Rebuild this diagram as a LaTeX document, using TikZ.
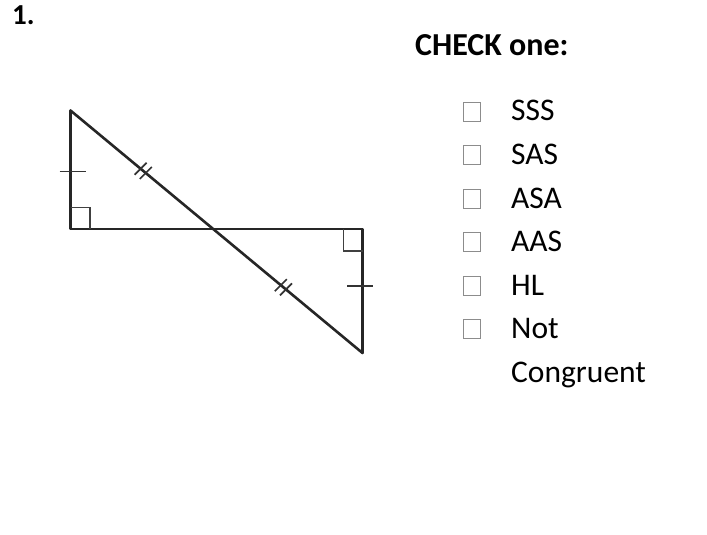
\documentclass[tikz,border=0pt]{standalone}
\usepackage{fontspec}
\setmainfont{Carlito}
\usetikzlibrary{calc}
\tikzset{
  side/.style={line width=2.6pt, line cap=round, line join=round, black!85},
  tick/.style={line width=1.7pt, black!80},
  rightang/.style={line width=1.3pt, black!75},
  cbox/.style={line width=0.9pt, draw=black!45},
  item/.style={anchor=base west, inner sep=0pt, font=\fontsize{31.5}{38}\selectfont},
  head/.style={anchor=base west, inner sep=0pt, font=\fontsize{32}{38}\selectfont\bfseries}
}
\begin{document}
\begin{tikzpicture}[x=1pt,y=-1pt]
\useasboundingbox (0,0) rectangle (707,535);
% labels
\node[head, font=\fontsize{29}{34}\selectfont\bfseries] (num) at (12,25) {1.};
\node[head] (hdr) at (415,55.7) {CHECK one:};
% triangle vertices
\coordinate (A) at (70.5,110.5);
\coordinate (B) at (70.5,229);
\coordinate (D) at (362.5,229);
\coordinate (E) at (362.5,353);
\draw[side] (A) -- (B) -- (D) -- (E);
\draw[side] (A) -- (E);
% right angle marks
\draw[rightang] ($(B)+(0,-21.5)$) -- ($(B)+(19.5,-21.5)$) -- ($(B)+(19.5,0)$);
\draw[rightang] ($(D)+(-19,0)$) -- ($(D)+(-19,22)$) -- ($(D)+(0,22)$);
% single ticks
\coordinate (T1) at ($(A)!0.516!(B)$);
\coordinate (T2) at ($(D)!0.46!(E)$);
\draw[tick] ($(T1)+(-11,0)$) -- ($(T1)+(15.5,0)$);
\draw[tick] ($(T2)+(-15.5,0)$) -- ($(T2)+(10.5,0)$);
% double ticks on hypotenuse
\coordinate (H1) at ($(A)!0.249!(E)$);
\coordinate (H2) at ($(A)!0.729!(E)$);
\foreach \h in {H1,H2}{
  \draw[tick] ($(\h)+(-2.6,-2.1)+(-6,6)$) -- ($(\h)+(-2.6,-2.1)+(6,-6)$);
  \draw[tick] ($(\h)+(2.6,2.1)+(-6,6)$) -- ($(\h)+(2.6,2.1)+(6,-6)$);
}
% check list
\foreach \t [count=\i from 0] in {SSS,SAS,ASA,AAS,HL,Not}{
  \pgfmathsetmacro{\yb}{121+43.5*\i}
  \draw[cbox] (463.5,\yb-19) rectangle (480,\yb);
  \node[item] (item\i) at (511,\yb) {\t};
}
\node[item] (item6) at (511,382) {Congruent};
\end{tikzpicture}
\end{document}
